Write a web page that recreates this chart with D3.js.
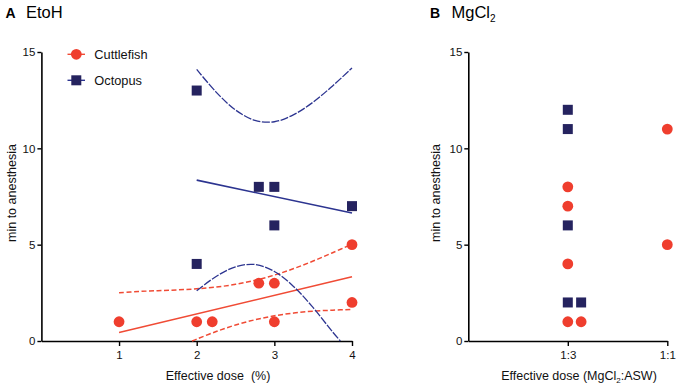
<!DOCTYPE html>
<html><head><meta charset="utf-8">
<script src="https://cdn.jsdelivr.net/npm/d3@7"></script>
<style>body{margin:0;background:#fff}svg{display:block;font-family:Arial,"Liberation Sans",sans-serif}</style>
</head><body><svg id="c" width="680" height="391"></svg>
<script>
// ---------- Panel A (EtoH) data ----------
const etohCuttleX = [1, 2, 2.2, 2.8, 3, 3, 4, 4];
const etohCuttleY = [1, 1, 1, 3, 3, 1, 5, 2];
const etohOctoX = [2, 2, 2.8, 3, 3, 4];
const etohOctoY = [13, 4, 8, 8, 6, 7];
const cuttleFitX = [1, 4];
const cuttleFitY = [0.44, 3.33];
const octoFitX = [2, 4];
const octoFitY = [8.35, 6.64];
const cuttleUpperX = [1, 1.25, 1.5, 1.75, 2, 2.25, 2.5, 2.75, 3, 3.25, 3.5, 3.75, 4];
const cuttleUpperY = [2.5, 2.57, 2.61, 2.65, 2.71, 2.8, 2.94, 3.15, 3.42, 3.76, 4.15, 4.58, 5.03];
const cuttleLowerX = [1.94, 2, 2.25, 2.5, 2.75, 3, 3.25, 3.5, 3.75, 4];
const cuttleLowerY = [0, 0.1, 0.49, 0.83, 1.1, 1.31, 1.45, 1.55, 1.6, 1.64];
const octoUpperX = [2, 2.25, 2.5, 2.75, 3, 3.25, 3.5, 3.75, 4];
const octoUpperY = [14.1, 12.92, 11.99, 11.45, 11.38, 11.75, 12.4, 13.24, 14.17];
const octoLowerX = [2, 2.25, 2.5, 2.75, 3, 3.25, 3.5, 3.75, 3.85];
const octoLowerY = [2.61, 3.35, 3.85, 3.97, 3.61, 2.82, 1.73, 0.47, 0];
const etohTicks = [1, 2, 3, 4];
const yTicks = [0, 5, 10, 15];

// ---------- Panel B (MgCl2) data ----------
const doseCats = ["1:3", "1:1"];
const mgCuttleDose = ["1:3", "1:3", "1:3", "1:3", "1:3", "1:1", "1:1"];
const mgCuttleY = [8, 7, 4, 1, 1, 11, 5];
const mgCuttleSide = [0, 0, 0, 0, 1, 0, 0];
const mgOctoDose = ["1:3", "1:3", "1:3", "1:3", "1:3"];
const mgOctoY = [12, 11, 6, 2, 2];
const mgOctoSide = [0, 0, 0, 0, 1];

const RED = "#ef3e2e", RED_LINE = "#f04b35", NAVY = "#25235f", BLUE_LINE = "#2c3490";

const svg = d3.select("#c");
const y = d3.scaleLinear().domain([0, 15]).range([341, 52]);
const xA = d3.scaleLinear().domain([0, 4]).range([41.4, 352]);
const xB = d3.scaleLinear().domain([0, 2]).range([468.3, 667.3]);
const catPos = c => doseCats.indexOf(c) + 1;

function drawAxes(g, x, xTickVals, xTickFmt) {
  const ya = g.append("g").attr("transform", `translate(${x(0)},0)`)
    .call(d3.axisLeft(y).tickValues(yTicks).tickSize(4).tickPadding(2).tickSizeOuter(0));
  const xa = g.append("g").attr("transform", `translate(0,${y(0)})`)
    .call(d3.axisBottom(x).tickValues(xTickVals).tickFormat(xTickFmt).tickSize(5).tickPadding(5).tickSizeOuter(0));
  [ya, xa].forEach(a => {
    a.select(".domain").attr("stroke", "#000").attr("stroke-width", 1.6);
    a.selectAll(".tick line").attr("stroke", "#000").attr("stroke-width", 1.4);
    a.selectAll(".tick text").attr("fill", "#111").style("font-size", "11.5px").style("font-family", "Arial, 'Liberation Sans', sans-serif");
  });
}

// ----- Panel A -----
const gA = svg.append("g");
drawAxes(gA, xA, etohTicks, d3.format("d"));

const line = (x) => d3.line().x(d => x(d[0])).y(d => y(d[1]));
const curve = (x) => d3.line().curve(d3.curveCatmullRom).x(d => x(d[0])).y(d => y(d[1]));
const zip = (a, b) => a.map((v, i) => [v, b[i]]);

gA.append("path").attr("d", line(xA)(zip(cuttleFitX, cuttleFitY)))
  .attr("fill", "none").attr("stroke", RED_LINE).attr("stroke-width", 1.6);
gA.append("path").attr("d", curve(xA)(zip(cuttleUpperX, cuttleUpperY)))
  .attr("fill", "none").attr("stroke", RED_LINE).attr("stroke-width", 1.5).attr("stroke-dasharray", "5,2.5");
gA.append("path").attr("d", curve(xA)(zip(cuttleLowerX, cuttleLowerY)))
  .attr("fill", "none").attr("stroke", RED_LINE).attr("stroke-width", 1.5).attr("stroke-dasharray", "5,2.5");
gA.append("path").attr("d", line(xA)(zip(octoFitX, octoFitY)))
  .attr("fill", "none").attr("stroke", BLUE_LINE).attr("stroke-width", 1.6);
gA.append("path").attr("d", curve(xA)(zip(octoUpperX, octoUpperY)))
  .attr("fill", "none").attr("stroke", BLUE_LINE).attr("stroke-width", 1.3).attr("stroke-dasharray", "8,1.5");
gA.append("path").attr("d", curve(xA)(zip(octoLowerX, octoLowerY)))
  .attr("fill", "none").attr("stroke", BLUE_LINE).attr("stroke-width", 1.3).attr("stroke-dasharray", "8,1.5");

gA.selectAll("circle.cf").data(zip(etohCuttleX, etohCuttleY)).join("circle")
  .attr("cx", d => xA(d[0])).attr("cy", d => y(d[1])).attr("r", 5.4).attr("fill", RED);
gA.selectAll("rect.oc").data(zip(etohOctoX, etohOctoY)).join("rect")
  .attr("x", d => xA(d[0]) - 5).attr("y", d => y(d[1]) - 5).attr("width", 10).attr("height", 10).attr("fill", NAVY);

// legend
const leg = gA.append("g");
leg.append("line").attr("x1", 67.5).attr("x2", 85).attr("y1", 54.3).attr("y2", 54.3).attr("stroke", RED_LINE).attr("stroke-width", 1.4);
leg.append("circle").attr("cx", 76.3).attr("cy", 54.3).attr("r", 5.4).attr("fill", RED);
leg.append("text").attr("x", 94.3).attr("y", 59).style("font-size", "12.8px").attr("fill", "#111").text("Cuttlefish");
leg.append("line").attr("x1", 67.5).attr("x2", 85).attr("y1", 80.3).attr("y2", 80.3).attr("stroke", BLUE_LINE).attr("stroke-width", 1.4);
leg.append("rect").attr("x", 71.3).attr("y", 75.3).attr("width", 10).attr("height", 10).attr("fill", NAVY);
leg.append("text").attr("x", 94.3).attr("y", 85).style("font-size", "12.8px").attr("fill", "#111").text("Octopus");

// titles A
svg.append("text").attr("x", 5.5).attr("y", 17.5).style("font-size", "14px").style("font-weight", "bold").text("A");
svg.append("text").attr("x", 26).attr("y", 17.5).style("font-size", "16.5px").text("EtoH");
svg.append("text").attr("transform", "translate(15.5,193) rotate(-90)").attr("text-anchor", "middle")
  .style("font-size", "12.5px").attr("fill", "#111").text("min to anesthesia");
svg.append("text").attr("x", 218).attr("y", 380).attr("text-anchor", "middle").attr("xml:space", "preserve")
  .style("white-space", "pre").style("font-size", "12.5px").attr("fill", "#111").text("Effective dose  (%)");

// ----- Panel B -----
const gB = svg.append("g");
drawAxes(gB, xB, [1, 2], d => doseCats[d - 1]);
const side = 0.134;
gB.selectAll("circle.mc").data(mgCuttleY.map((v, i) => [catPos(mgCuttleDose[i]) + mgCuttleSide[i] * side, v])).join("circle")
  .attr("cx", d => xB(d[0])).attr("cy", d => y(d[1])).attr("r", 5.4).attr("fill", RED);
gB.selectAll("rect.mo").data(mgOctoY.map((v, i) => [catPos(mgOctoDose[i]) + mgOctoSide[i] * side, v])).join("rect")
  .attr("x", d => xB(d[0]) - 5).attr("y", d => y(d[1]) - 5).attr("width", 10).attr("height", 10).attr("fill", NAVY);

svg.append("text").attr("x", 430).attr("y", 18).style("font-size", "14px").style("font-weight", "bold").text("B");
const tB = svg.append("text").attr("x", 451.5).attr("y", 18).style("font-size", "16.5px");
tB.append("tspan").text("MgCl");
tB.append("tspan").attr("dy", 4).style("font-size", "10px").text("2");
svg.append("text").attr("transform", "translate(439.5,193) rotate(-90)").attr("text-anchor", "middle")
  .style("font-size", "12.5px").attr("fill", "#111").text("min to anesthesia");
const xt = svg.append("text").attr("x", 579).attr("y", 380).attr("text-anchor", "middle").style("font-size", "12.5px").attr("fill", "#111");
xt.append("tspan").text("Effective dose (MgCl");
xt.append("tspan").attr("dy", 3).style("font-size", "8px").text("2");
xt.append("tspan").attr("dy", -3).text(":ASW)");
</script></body></html>
